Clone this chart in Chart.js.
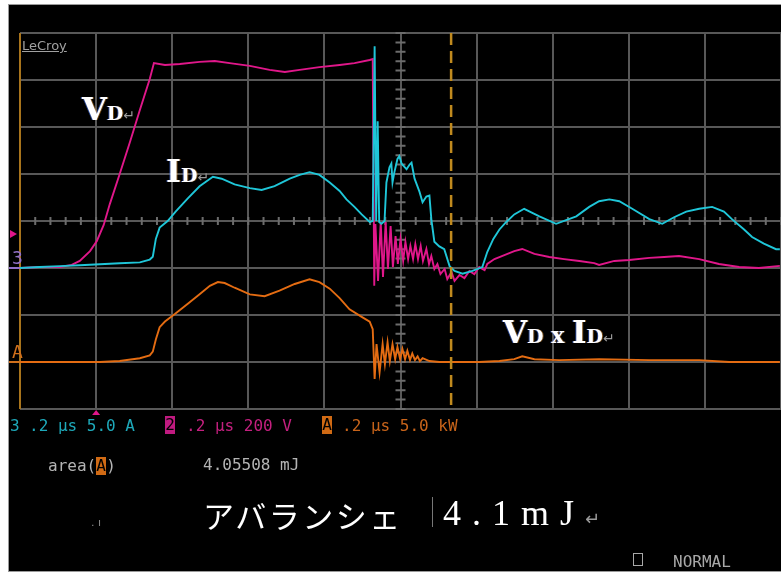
<!DOCTYPE html>
<html><head><meta charset="utf-8">
<script src="https://cdn.jsdelivr.net/npm/chart.js@4.4.1/dist/chart.umd.min.js"></script>
<style>
html,body{margin:0;padding:0;background:#fff;width:781px;height:572px;overflow:hidden;}
#panel{position:absolute;left:8px;top:4px;width:774px;height:568px;background:#000;border-left:1px solid #9a9a9a;border-top:1px solid #9a9a9a;border-bottom:1px solid #9a9a9a;box-sizing:border-box;}
#c{position:absolute;left:0;top:0;}
.t{position:absolute;white-space:nowrap;line-height:1;}
.mono{font-family:"DejaVu Sans Mono",monospace;font-size:16px;}
.lab{font-family:"DejaVu Serif",serif;font-weight:bold;color:#fff;text-shadow:-1px 0 rgba(70,120,255,.55),1px 0 rgba(255,160,40,.45);}
.sub{font-size:19px;}
.ret{font-family:"DejaVu Sans",sans-serif;font-weight:normal;font-size:14px;color:#9a9a9a;text-shadow:none;}
.box{display:inline-block;width:10px;height:18px;line-height:18px;text-align:center;color:#000;}
</style></head>
<body>
<div id="panel"></div>
<canvas id="c" width="781" height="572"></canvas>

<div class="t" style="left:22px;top:39px;font-family:'DejaVu Sans';font-size:13px;color:#a0a0a0;text-decoration:underline;">LeCroy</div>

<div class="t lab" style="left:82px;top:93px;font-size:32px;">V<span class="sub">D</span><span class="ret">↵</span></div>
<div class="t lab" style="left:166px;top:155px;font-size:32px;">I<span class="sub">D</span><span class="ret">↵</span></div>
<div class="t lab" style="left:503px;top:317px;font-size:31px;">V<span class="sub">D</span><span style="font-size:22px;"> x </span>I<span class="sub">D</span><span class="ret">↵</span></div>

<div class="t mono" style="left:12px;top:249px;font-size:18px;color:#9270c8;">3</div>
<div class="t mono" style="left:12px;top:343px;font-size:18px;color:#d0701c;">A</div>

<div class="t mono" style="left:10px;top:418px;color:#1ea9ba;">3</div>
<div class="t mono" style="left:29px;top:418px;color:#1ea9ba;">.2 µs 5.0 A</div>
<div class="t mono box" style="left:165px;top:416px;background:#c01a80;">2</div>
<div class="t mono" style="left:186px;top:418px;color:#c4207f;">.2 µs 200 V</div>
<div class="t mono box" style="left:322px;top:416px;background:#d06a14;">A</div>
<div class="t mono" style="left:342px;top:418px;color:#c8641a;">.2 µs 5.0 kW</div>

<div class="t mono" style="left:48px;top:457px;color:#b4b4b4;">area(<span class="box" style="background:#d06a14;">A</span>)</div>
<div class="t mono" style="left:203px;top:457px;color:#b4b4b4;">4.05508 mJ</div>

<div class="t" style="left:91px;top:517px;font-family:'DejaVu Sans';font-size:11px;color:#888;">. ı</div>

<div class="t" style="left:203px;top:499px;font-family:'Noto Sans CJK JP';font-size:31px;letter-spacing:2.5px;color:#fff;">アバランシェ</div>
<div style="position:absolute;left:432px;top:497px;width:1px;height:30px;background:#777;"></div>
<div class="t" style="left:443px;top:495px;font-family:'Liberation Serif',serif;font-size:36px;letter-spacing:11px;color:#fff;">4.1mJ<span style="font-family:'DejaVu Sans';font-size:18px;letter-spacing:0;color:#9a9a9a;">↵</span></div>

<div style="position:absolute;left:633px;top:553px;width:8px;height:11px;border:1.5px solid #a8a8a8;"></div>
<div class="t mono" style="left:673px;top:554px;color:#a8a8a8;">NORMAL</div>

<script>
// ---- data ----
// time axis in µs (0.2 µs/div, 10 div)
const gridTimeTicks = [0, 0.2, 0.4, 0.6, 0.8, 1.0, 1.2, 1.4, 1.6, 1.8, 2.0];

// Channel 2 : V_D (V)
const vdTime  = [0, 0.052, 0.105, 0.136, 0.157, 0.184, 0.202, 0.220, 0.236, 0.262, 0.289, 0.315, 0.341, 0.352, 0.381, 0.420, 0.472, 0.512, 0.551, 0.604, 0.656, 0.696, 0.735, 0.787, 0.840, 0.879, 0.919, 0.927,
                 0.931, 0.934, 0.941, 0.948, 0.954, 0.961, 0.967, 0.974, 0.980, 0.987, 0.993, 1.000, 1.007, 1.013, 1.020, 1.026, 1.033, 1.039, 1.046, 1.053, 1.059, 1.068, 1.075, 1.081, 1.089, 1.097, 1.105, 1.116, 1.123, 1.134, 1.142,
                 1.155, 1.168, 1.181, 1.194, 1.207, 1.221, 1.228, 1.247, 1.273, 1.299, 1.320, 1.352, 1.391, 1.430, 1.470, 1.509, 1.522, 1.562, 1.601, 1.654, 1.693, 1.732, 1.785, 1.837, 1.890, 1.942, 1.997];
const vdVolts = [0, 4, 4, 13, 30, 72, 115, 183, 272, 400, 536, 672, 804, 872, 864, 868, 877, 881, 872, 860, 843, 834, 843, 855, 864, 872, 885, 889,
                 -75, 187, -55, 196, -38, 196, -4, 179, 4, 136, 17, 123, 30, 111, 38, 94, 38, 102, 38, 94, 30, 81, 17, 51, -4, 17, -26, -4, -47, -17, -55,
                 -30, -43, -13, -26, 4, -9, 17, 38, 55, 72, 81, 60, 47, 38, 30, 21, 13, 30, 34, 43, 47, 51, 38, 17, 4, 0, 9];

// Channel 3 : I_D (A)
const idTime = [0, 0.052, 0.105, 0.157, 0.210, 0.262, 0.315, 0.341, 0.349, 0.357, 0.367, 0.388, 0.409, 0.441, 0.472, 0.507, 0.530, 0.564, 0.604, 0.635, 0.669, 0.709, 0.735, 0.761, 0.787, 0.814, 0.840, 0.858, 0.879, 0.898,
                0.919, 0.927, 0.932, 0.936, 0.940, 0.944, 0.950, 0.958, 0.963, 0.971, 0.976, 0.979, 0.984, 0.992, 0.997, 1.003, 1.016, 1.024, 1.029, 1.037, 1.050, 1.058, 1.068, 1.076, 1.081, 1.089, 1.102, 1.115, 1.129, 1.142,
                1.163, 1.189, 1.215, 1.228, 1.244, 1.260, 1.278, 1.299, 1.325, 1.365, 1.409, 1.462, 1.496, 1.522, 1.549, 1.575, 1.609, 1.654, 1.688, 1.719, 1.751, 1.785, 1.819, 1.850, 1.871, 1.903, 1.924, 1.955, 1.987, 1.997];
const idAmps = [0, 0.1, 0.2, 0.3, 0.4, 0.5, 0.6, 0.9, 1.2, 3.1, 4.3, 5.0, 6.0, 7.4, 8.7, 9.7, 9.5, 8.9, 8.5, 8.3, 8.7, 9.5, 9.9, 10.2, 9.9, 9.1, 8.2, 7.3, 6.5, 5.7,
                4.9, 5.0, 23.6, 5.0, 15.6, 4.9, 4.7, 5.0, 9.1, 10.7, 11.1, 9.1, 10.2, 11.6, 11.9, 11.1, 10.5, 11.0, 11.2, 9.5, 8.1, 7.0, 7.6, 7.7, 5.2, 2.8, 2.3, 2.0, 0.2, -0.3,
                -0.6, -0.3, 0.1, 1.7, 3.1, 4.1, 4.9, 5.7, 6.3, 5.5, 4.7, 5.5, 6.5, 7.1, 7.3, 7.1, 6.3, 5.2, 4.7, 5.4, 6.0, 6.3, 6.5, 6.0, 5.2, 4.1, 3.3, 2.6, 2.0, 2.0];

// Math A : V_D x I_D (kW)
const pTime = [0, 0.210, 0.262, 0.315, 0.341, 0.349, 0.357, 0.367, 0.381, 0.407, 0.441, 0.472, 0.499, 0.520, 0.538, 0.564, 0.604, 0.643, 0.682, 0.722, 0.761, 0.787, 0.814, 0.840, 0.866, 0.898, 0.919, 0.927,
               0.932, 0.937, 0.945, 0.953, 0.959, 0.966, 0.972, 0.979, 0.986, 0.992, 0.999, 1.005, 1.012, 1.018, 1.025, 1.031, 1.038, 1.045, 1.051, 1.058, 1.076, 1.102,
               1.207, 1.260, 1.299, 1.320, 1.352, 1.417, 1.522, 1.654, 1.785, 1.864, 1.997];
const pKW   = [0, 0, 0.1, 0.4, 0.7, 1.1, 2.4, 3.7, 4.3, 5.1, 6.2, 7.2, 8.1, 8.5, 8.4, 7.9, 7.2, 7.0, 7.6, 8.3, 8.8, 8.5, 7.8, 6.8, 5.6, 4.8, 4.3, 3.5,
               -1.8, 1.9, -1.1, 1.9, -0.2, 2.1, 0.1, 1.9, 0.3, 1.6, 0.3, 1.4, 0.3, 1.2, 0.2, 0.9, 0.2, 0.6, 0.1, 0.4, 0.1, 0,
               0, 0.1, 0.3, 0.6, 0.3, 0.2, 0.3, 0.2, 0.2, 0, 0];

// scope settings
const cursorTime = 1.133;   // dashed cursor (µs)
const triggerTime = 0.2;    // trigger position (µs)
const triggerLevel = 145;   // trigger level (V)

const zip = (xs, ys) => xs.slice(0, Math.min(xs.length, ys.length)).map((x, i) => ({x, y: ys[i]}));

const GRID = '#585858';
const scopePlugin = {
  id: 'scope',
  beforeDatasetsDraw(chart) {
    const {ctx, chartArea: a, scales: {x, yI}} = chart;
    ctx.save();
    ctx.strokeStyle = '#6c6c6c'; ctx.lineWidth = 2;
    ctx.beginPath();
    const yc = yI.getPixelForValue(5), xc = x.getPixelForValue(1.0);
    for (let k = 0; k <= 50; k++) { const px = x.getPixelForValue(k * 0.04); ctx.moveTo(px, yc - 4); ctx.lineTo(px, yc + 4); }
    for (let k = 0; k <= 40; k++) { const py = yI.getPixelForValue(-15 + k); ctx.moveTo(xc - 5, py); ctx.lineTo(xc + 5, py); }
    ctx.stroke();
    ctx.strokeStyle = '#a8741c'; ctx.lineWidth = 2;
    ctx.beginPath(); ctx.moveTo(a.left, a.top); ctx.lineTo(a.left, a.bottom); ctx.stroke();
    ctx.restore();
  },
  afterDatasetsDraw(chart) {
    const {ctx, chartArea: a, scales: {x, yI, yV, yP}} = chart;
    ctx.save();
    const cx = x.getPixelForValue(cursorTime);
    ctx.strokeStyle = '#c08a1e'; ctx.lineWidth = 2.5; ctx.setLineDash([12, 6]);
    ctx.beginPath(); ctx.moveTo(cx, a.top); ctx.lineTo(cx, a.bottom); ctx.stroke();
    ctx.setLineDash([]);
    const g3 = yI.getPixelForValue(0), gA = yP.getPixelForValue(0);
    ctx.lineWidth = 2;
    ctx.strokeStyle = '#9270c8'; ctx.beginPath(); ctx.moveTo(9, g3); ctx.lineTo(20, g3); ctx.stroke();
    ctx.strokeStyle = '#d0701c'; ctx.beginPath(); ctx.moveTo(9, gA); ctx.lineTo(20, gA); ctx.stroke();
    const tl = yV.getPixelForValue(triggerLevel);
    ctx.fillStyle = '#e0168a';
    ctx.beginPath(); ctx.moveTo(10, tl - 4); ctx.lineTo(17, tl); ctx.lineTo(10, tl + 4); ctx.closePath(); ctx.fill();
    const tp = x.getPixelForValue(triggerTime);
    ctx.beginPath(); ctx.moveTo(tp - 4, a.bottom + 6); ctx.lineTo(tp, a.bottom + 1); ctx.lineTo(tp + 4, a.bottom + 6); ctx.closePath(); ctx.fill();
    ctx.restore();
  }
};

const gridOpts = {color: GRID, lineWidth: 2, drawTicks: false};
new Chart(document.getElementById('c'), {
  type: 'line',
  data: {
    datasets: [
      {label: 'I_D (A)', data: zip(idTime, idAmps), yAxisID: 'yI', borderColor: '#1fc6d8', borderWidth: 1.9, pointRadius: 0, tension: 0, order: 0},
      {label: 'V_D (V)', data: zip(vdTime, vdVolts), yAxisID: 'yV', borderColor: '#e0178a', borderWidth: 1.9, pointRadius: 0, tension: 0, order: 1},
      {label: 'V_D x I_D (kW)', data: zip(pTime, pKW), yAxisID: 'yP', borderColor: '#e46c12', borderWidth: 1.9, pointRadius: 0, tension: 0, order: 2}
    ]
  },
  options: {
    responsive: false, animation: false, devicePixelRatio: 1,
    layout: {padding: {left: 20, top: 33, right: 0, bottom: 163}},
    plugins: {legend: {display: false}, tooltip: {enabled: false}},
    scales: {
      x: {type: 'linear', min: gridTimeTicks[0], max: gridTimeTicks[gridTimeTicks.length - 1],
          afterBuildTicks: s => { s.ticks = gridTimeTicks.map(v => ({value: v})); },
          ticks: {display: false, autoSkip: false}, grid: gridOpts, border: {display: false}},
      yI: {position: 'left', min: -15, max: 25, ticks: {display: false, stepSize: 5}, grid: gridOpts, border: {display: false}},
      yV: {display: false, min: -600, max: 1000},
      yP: {display: false, min: -5, max: 35}
    }
  },
  plugins: [scopePlugin]
});
</script>
</body></html>
